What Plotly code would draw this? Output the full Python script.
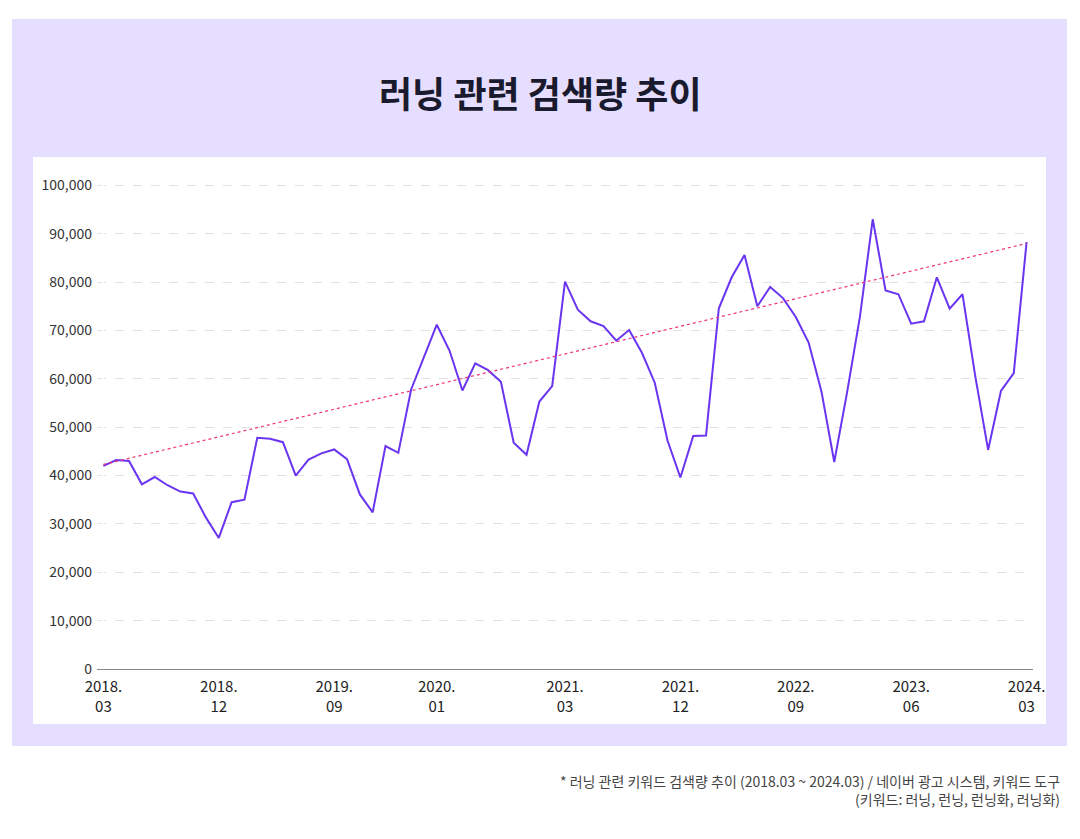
import plotly.graph_objs as go

months = [f"{y}.{m:02d}" for y in range(2018, 2025) for m in range(1, 13)]
months = months[2:2 + 73]
volume = [42000, 43200, 43000, 38200, 39700, 38000, 36700, 36300, 31300, 27100,
          34500, 35000, 47800, 47600, 46900, 40000, 43300, 44600, 45400, 43400,
          36100, 32400, 46100, 44700, 57800, 64500, 71200, 65800, 57600, 63200,
          61800, 59400, 46800, 44300, 55300, 58500, 80100, 74300, 71900, 70900,
          67900, 70100, 65400, 59200, 47200, 39600, 48200, 48300, 74600, 81000,
          85600, 75000, 79000, 76700, 72800, 67500, 57400, 42800, 57200, 72800,
          93000, 78300, 77500, 71400, 71900, 81000, 74500, 77500, 60500, 45300,
          57500, 61200, 88300]
trend = [42300, 88000]  # trend line endpoints

FONT = "Noto Sans CJK KR"
tick_idx = [0, 9, 18, 26, 36, 45, 54, 63, 72]
tick_txt = ["2018.<br>03", "2018.<br>12", "2019.<br>09", "2020.<br>01", "2021.<br>03",
            "2021.<br>12", "2022.<br>09", "2023.<br>06", "2024.<br>03"]

fig = go.Figure()
fig.add_trace(go.Scatter(x=list(range(len(volume))), y=volume, mode='lines',
                         line=dict(color='#6a35f0', width=2), name='검색량'))
fig.add_trace(go.Scatter(x=[0, len(volume) - 1], y=trend, mode='lines',
                         line=dict(color='#f0337a', width=1.2, dash='dot'), name='추세'))

# lavender frame and white panel behind the plot
fig.add_shape(type='rect', xref='paper', yref='paper', x0=-0.0908, x1=1.0363, y0=-0.1584, y1=1.3374,
              fillcolor='#e6defe', line_width=0, layer='below')
fig.add_shape(type='rect', xref='paper', yref='paper', x0=-0.0684, x1=1.0139, y0=-0.1132, y1=1.0535,
              fillcolor='white', line_width=0, layer='below')

fig.update_layout(
    width=1080, height=839, showlegend=False,
    margin=dict(l=89, r=55, t=175, b=178),
    paper_bgcolor='white', plot_bgcolor='rgba(0,0,0,0)',
    font=dict(family=FONT, color='#333', size=14),
    xaxis=dict(range=[-0.5, 72.5], tickvals=tick_idx, ticktext=tick_txt, showgrid=False,
               showline=True, linecolor='#888', ticks='', ticklabelstandoff=4,
               tickfont=dict(size=15, color='#222')),
    yaxis=dict(range=[0, 100500], tickvals=list(range(0, 100001, 10000)), tickformat=',',
               gridcolor='#e2e2e2', griddash='dash', zeroline=False, ticklabelstandoff=4,
               tickfont=dict(size=14, color='#333')),
)
fig.add_annotation(text="<b>러닝 관련 검색량 추이</b>", xref='paper', yref='paper', x=0.474, y=1.244,
                   showarrow=False, font=dict(size=36, color='#1a1a2e', family=FONT))
fig.add_annotation(text="* 러닝 관련 키워드 검색량 추이 (2018.03 ~ 2024.03) / 네이버 광고 시스템, 키워드 도구<br>(키워드: 러닝, 런닝, 런닝화, 러닝화)",
                   xref='paper', yref='paper', x=1.0306, y=-0.205, xanchor='right', yanchor='top',
                   align='right', showarrow=False, font=dict(size=14, color='#444', family=FONT))

fig.write_html("out.html")
